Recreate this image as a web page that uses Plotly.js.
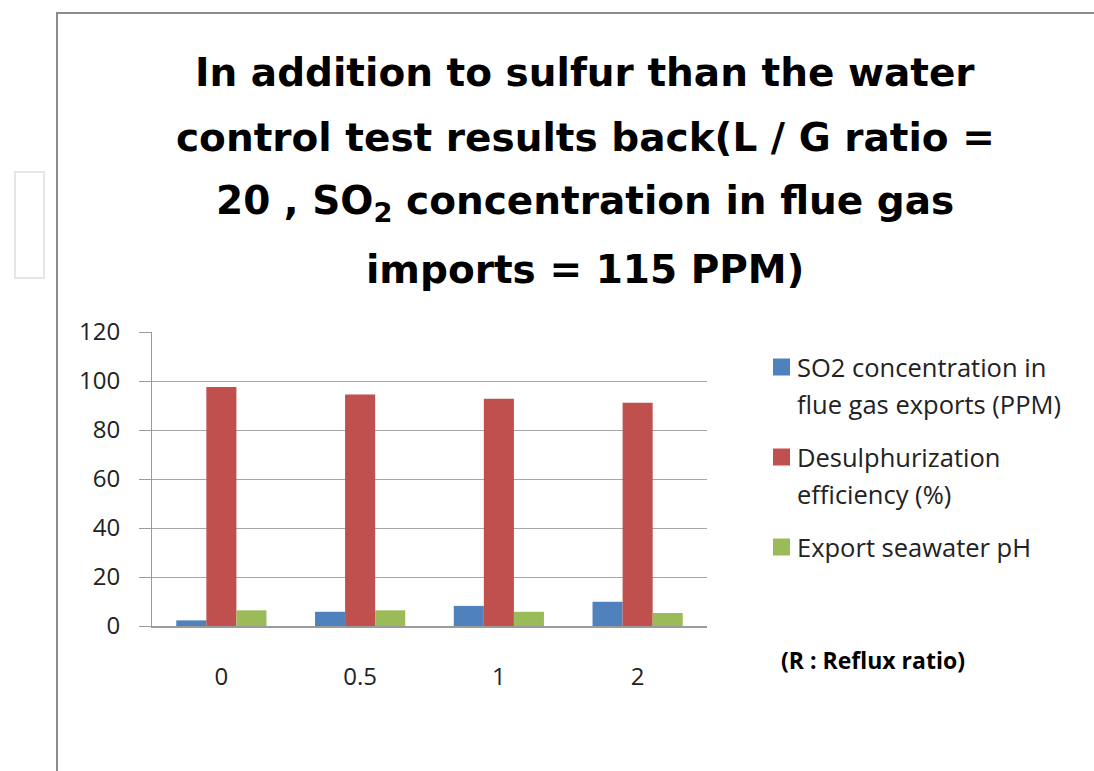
<!DOCTYPE html>
<html>
<head>
<meta charset="utf-8">
<script src="https://cdn.plot.ly/plotly-3.0.1.min.js"></script>
<style>html,body{margin:0;padding:0;background:#fff;}#chart{width:1094px;height:771px;}</style>
</head>
<body>
<div id="chart"></div>
<script>
const categories = ['0', '0.5', '1', '2'];
const seriesNames = [
  'SO2 concentration in<br>flue gas exports (PPM)',
  'Desulphurization<br>efficiency (%)',
  'Export seawater pH'
];
const so2Exports = [2.3, 5.8, 8.2, 9.9];
const desulphEfficiency = [97.5, 94.5, 92.8, 91.1];
const seawaterPH = [6.4, 6.4, 5.8, 5.3];
const yTicks = [0, 20, 40, 60, 80, 100, 120];
const titleLines = [
  'In addition to sulfur than the water',
  'control test results back(L / G ratio =',
  '20 , SO<sub>2</sub> concentration in flue gas',
  'imports = 115 PPM)'
];
const note = '(R : Reflux ratio)';

const colors = ['#4F81BD', '#C0504D', '#9BBB59'];
const values = [so2Exports, desulphEfficiency, seawaterPH];
const FONT = '"Open Sans", "Noto Sans", sans-serif';
const TFONT = '"DejaVu Sans", "Open Sans", sans-serif';

const traces = values.map((v, i) => ({
  type: 'bar',
  x: categories,
  y: v,
  name: seriesNames[i].replace('<br>', ' '),
  marker: {color: colors[i], line: {width: 0}},
  showlegend: false,
  hoverinfo: 'x+y'
}));

const W = 1094, H = 771;
const L = 152, R = 387, T = 332, B = 145;
const pw = W - L - R, ph = H - T - B;
const px = x => (x - L) / pw;
const py = y => (H - B - y) / ph;

const titleY = [72, 137, 203, 269];
const annotations = titleLines.map((t, i) => ({
  text: '<b>' + t + '</b>',
  xref: 'paper', yref: 'paper',
  x: px(585), y: py(titleY[i]),
  xanchor: 'center', yanchor: 'middle',
  showarrow: false,
  font: {family: TFONT, size: 39, color: '#000'}
}));
annotations.push({
  text: '<b>' + note + '</b>',
  xref: 'paper', yref: 'paper',
  x: px(779), y: py(660),
  xanchor: 'left', yanchor: 'middle',
  showarrow: false,
  font: {family: FONT, size: 23, color: '#000'}
});

const shapes = [
  {type: 'rect', xref: 'paper', yref: 'paper', x0: px(57), x1: px(1110), y0: py(790), y1: py(13),
   line: {color: '#8C8C8C', width: 2}, fillcolor: 'rgba(0,0,0,0)', layer: 'below'},
  {type: 'rect', xref: 'paper', yref: 'paper', x0: px(15), x1: px(44), y0: py(278), y1: py(172),
   line: {color: '#E6E6E6', width: 2}, fillcolor: 'rgba(0,0,0,0)', layer: 'below'}
];
let ly = 367;
const lineH = 37, itemGap = 53;
seriesNames.forEach((name, i) => {
  shapes.push({type: 'rect', xref: 'paper', yref: 'paper',
    x0: px(773), x1: px(790), y0: py(ly + 8.5), y1: py(ly - 8.5),
    fillcolor: colors[i], line: {width: 0}});
  const lines = name.split('<br>');
  lines.forEach((ln, j) => {
    annotations.push({
      text: ln, xref: 'paper', yref: 'paper',
      x: px(795), y: py(ly + j * lineH),
      xanchor: 'left', yanchor: 'middle', showarrow: false,
      font: {family: FONT, size: 25.5, color: '#222'}
    });
  });
  ly += (lines.length - 1) * lineH + itemGap;
});

const layout = {
  width: W, height: H,
  margin: {l: L, r: R, t: T, b: B, pad: 0},
  paper_bgcolor: '#fff', plot_bgcolor: '#fff',
  barmode: 'group',
  bargap: 0.35,
  bargroupgap: 0,
  showlegend: false,
  font: {family: FONT, color: '#222'},
  xaxis: {
    type: 'category',
    showgrid: false,
    showline: true, linecolor: '#9A9A9A', linewidth: 2,
    ticks: '',
    ticklabelstandoff: 28,
    tickfont: {family: FONT, size: 24, color: '#222'},
    fixedrange: true
  },
  yaxis: {
    range: [0, 120],
    tickvals: yTicks,
    ticktext: yTicks.map(String),
    showgrid: true, gridcolor: '#A6A6A6', gridwidth: 1,
    showline: true, linecolor: '#9A9A9A', linewidth: 1,
    zeroline: false,
    ticks: 'outside', ticklen: 12, tickcolor: '#9A9A9A',
    ticklabelstandoff: 14,
    tickfont: {family: FONT, size: 24, color: '#222'},
    fixedrange: true
  },
  annotations: annotations,
  shapes: shapes
};

Plotly.newPlot('chart', traces, layout, {displayModeBar: false, staticPlot: true});
</script>
</body>
</html>
